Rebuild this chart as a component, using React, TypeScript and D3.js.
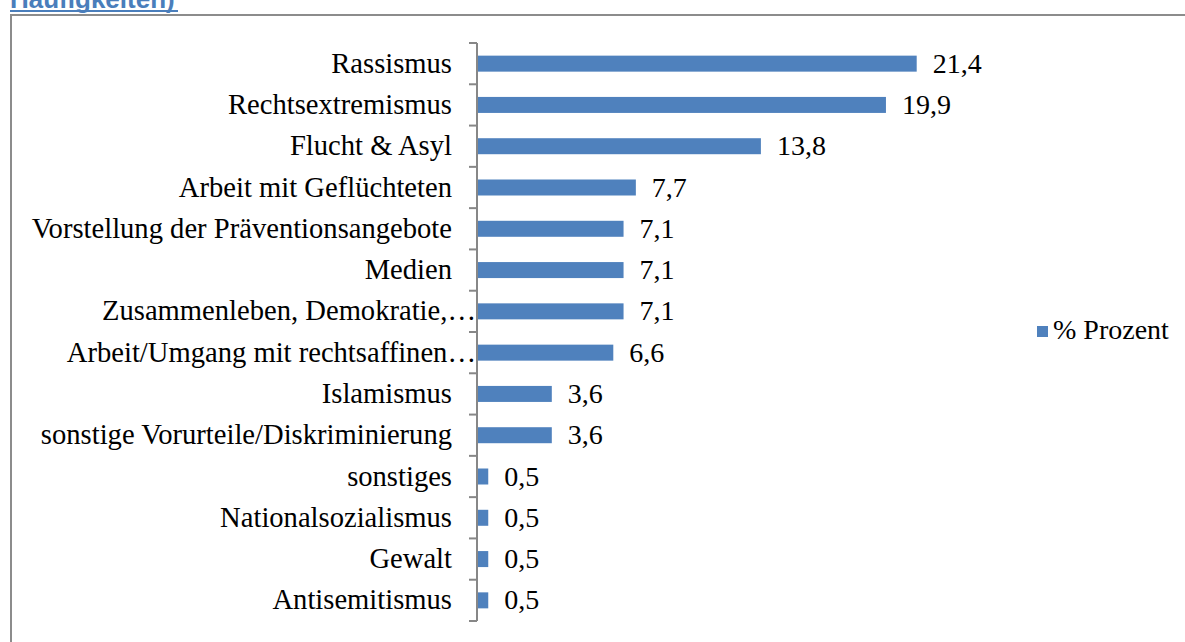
import React from "react";
import * as d3 from "d3";

const categories = [
  "Rassismus",
  "Rechtsextremismus",
  "Flucht & Asyl",
  "Arbeit mit Geflüchteten",
  "Vorstellung der Präventionsangebote",
  "Medien",
  "Zusammenleben, Demokratie,…",
  "Arbeit/Umgang mit rechtsaffinen…",
  "Islamismus",
  "sonstige Vorurteile/Diskriminierung",
  "sonstiges",
  "Nationalsozialismus",
  "Gewalt",
  "Antisemitismus",
];
const values = [21.4, 19.9, 13.8, 7.7, 7.1, 7.1, 7.1, 6.6, 3.6, 3.6, 0.5, 0.5, 0.5, 0.5];
const truncated = ["Zusammenleben, Demokratie,…", "Arbeit/Umgang mit rechtsaffinen…"];
const seriesName = "% Prozent";
const heading = "Häufigkeiten)";

const W = 1185;
const H = 642;
const BAR = "#4F81BD";
const AXIS = "#878787";
const SERIF = "'Liberation Serif', 'Times New Roman', serif";

export default function App() {
  const axisX = 477;
  const y = d3.scaleBand<string>().domain(categories).range([43, 621]).paddingInner(0).paddingOuter(0);
  const x = d3.scaleLinear().domain([0, 25]).range([axisX + 1, axisX + 1 + 25 * 20.5]);
  const barH = 16;
  const fmt = (v: number) => v.toFixed(1).replace(".", ",");
  const ticks = [...categories.map((c) => y(c)!), 621];

  return (
    <svg
      width={W}
      height={H}
      style={{ position: "absolute", left: 0, top: 0, background: "#fff" }}
      fontFamily={SERIF}
    >
      {/* heading, clipped at the top edge of the page */}
      <text x={10} y={8} fontFamily="'Liberation Sans', Arial, sans-serif" fontWeight="bold" fontSize={26} fill="#4a7ebb">
        {heading}
      </text>
      <rect x={10} y={10} width={168} height={2} fill="#4a7ebb" />

      {/* chart frame */}
      <path d={`M11,${H + 5} V15 H${W + 5}`} fill="none" stroke="#8c8c8c" strokeWidth={2} />

      {/* bars with value labels and category labels */}
      {categories.map((c, i) => {
        const cy = y(c)! + y.bandwidth() / 2;
        return (
          <g key={c}>
            <rect x={x(0)} y={cy - barH / 2} width={x(values[i]) - x(0)} height={barH} fill={BAR} />
            <text x={x(values[i]) + 16} y={cy + 9} fontSize={28} fill="#000">
              {fmt(values[i])}
            </text>
            <text
              x={truncated.includes(c) ? axisX - 1 : axisX - 25}
              y={cy + 9}
              fontSize={28.6}
              textAnchor="end"
              fill="#000"
            >
              {c}
            </text>
          </g>
        );
      })}

      {/* category axis */}
      <line x1={axisX} x2={axisX} y1={43} y2={621} stroke={AXIS} strokeWidth={2} />
      {ticks.map((t, i) => (
        <line key={i} x1={axisX - 8} x2={axisX} y1={t} y2={t} stroke={AXIS} strokeWidth={2} />
      ))}

      {/* legend */}
      <rect x={1037} y={326} width={11} height={11} fill={BAR} />
      <text x={1053} y={339} fontSize={28} fill="#000">
        {seriesName}
      </text>
    </svg>
  );
}
